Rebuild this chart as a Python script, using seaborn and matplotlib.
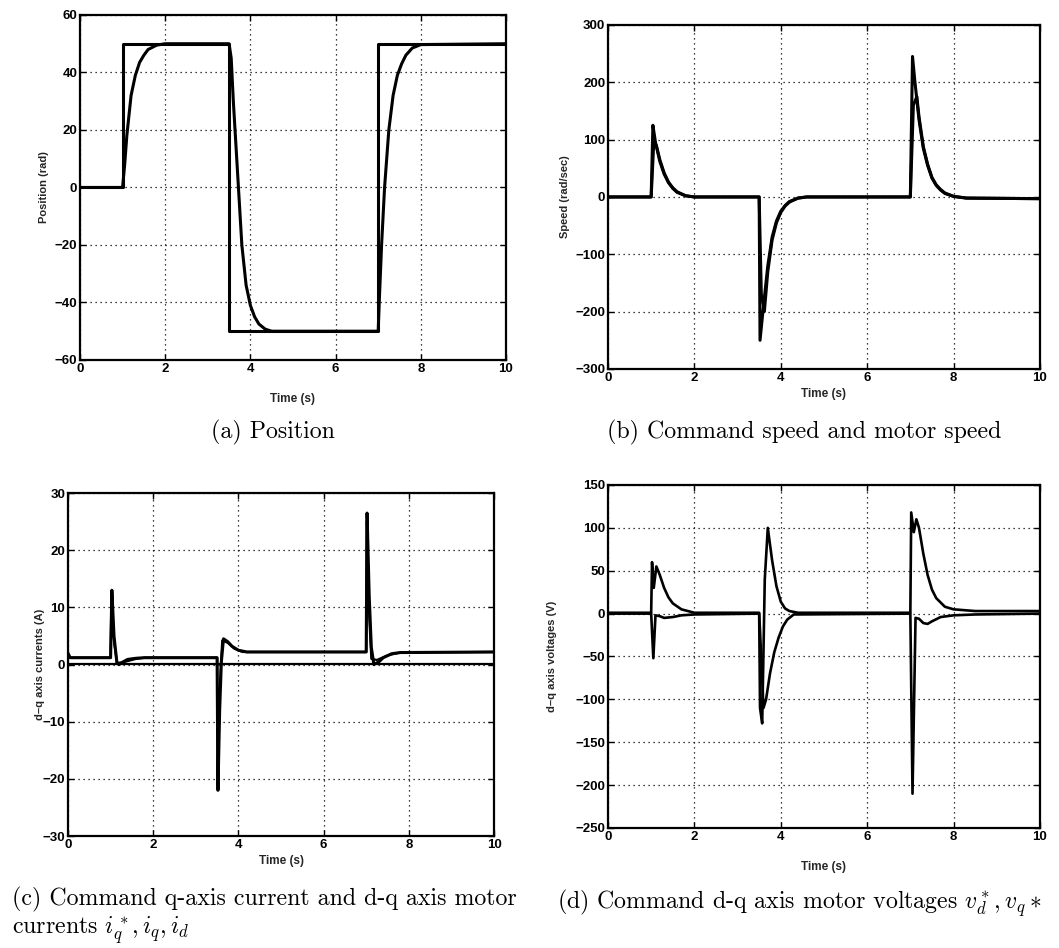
import numpy as np
import pandas as pd
import matplotlib
matplotlib.use("Agg")
import matplotlib.pyplot as plt
import seaborn as sns

# ---------------- data ----------------
# (a) position
pos_cmd_t = [0, 1.0, 1.0, 3.5, 3.5, 7.0, 7.0, 10]
pos_cmd_v = [0, 0, 50, 50, -50, -50, 50, 50]
pos_mot_t = [0, 1.0, 1.05, 1.1, 1.2, 1.3, 1.4, 1.5, 1.6, 1.8, 2.0, 3.5, 3.55, 3.6, 3.7, 3.8,
             3.9, 4.0, 4.1, 4.2, 4.35, 4.5, 7.0, 7.03, 7.08, 7.15, 7.25, 7.35, 7.45, 7.55,
             7.65, 7.8, 8.0, 10]
pos_mot_v = [0, 0, 8, 18, 32, 39, 43.5, 46, 48, 49.5, 50, 50, 45, 30, 5, -20,
             -34, -41, -45, -47.5, -49.3, -50, -50, -38, -20, 0, 20, 32, 39, 43,
             46, 48.5, 49.7, 50]

# (b) speed
spd_cmd_t = [0, 1.0, 1.04, 1.1, 1.2, 1.3, 1.4, 1.5, 1.6, 1.8, 2.0, 3.5, 3.52, 3.6, 3.7, 3.8,
             3.9, 4.0, 4.1, 4.2, 4.4, 4.6, 7.0, 7.05, 7.1, 7.2, 7.3, 7.4, 7.5, 7.6, 7.7,
             7.8, 8.0, 8.3, 10]
spd_cmd_v = [0, 0, 125, 95, 62, 40, 25, 15, 8, 2, 0, 0, -250, -190, -120, -70,
             -42, -25, -15, -8, -2, 0, 0, 245, 205, 135, 85, 55, 33, 20, 12,
             6, 1, -2, -3]
spd_mot_t = [0, 1.0, 1.06, 1.12, 1.2, 1.3, 1.4, 1.5, 1.6, 1.8, 2.0, 3.5, 3.55, 3.62, 3.7, 3.8,
             3.9, 4.0, 4.1, 4.2, 4.4, 4.6, 7.0, 7.07, 7.15, 7.2, 7.3, 7.4, 7.5, 7.6, 7.7,
             7.8, 8.0, 8.3, 10]
spd_mot_v = [0, 0, 95, 90, 65, 42, 26, 16, 9, 2, 0, 0, -170, -200, -130, -75,
             -45, -27, -16, -9, -2, 0, 0, 160, 175, 140, 88, 57, 34, 21, 13,
             7, 1, -2, -3]

# (c) d-q axis currents
iq_t = [0, 0.05, 1.0, 1.03, 1.08, 1.15, 1.2, 1.3, 1.4, 1.6, 1.8, 3.5, 3.52, 3.56, 3.6, 3.65,
        3.75, 3.85, 4.0, 4.2, 7.0, 7.02, 7.07, 7.12, 7.18, 7.3, 7.4, 7.6, 7.8, 10]
iq_v = [2.0, 1.2, 1.2, 13, 5, 0.2, 0.0, 0.5, 0.9, 1.1, 1.2, 1.2, -22, -8, 0.5, 4.5,
        4.0, 3.2, 2.5, 2.2, 2.2, 26.5, 12, 3, 0.0, 0.5, 1.2, 1.9, 2.1, 2.2]
iqc_t = [0, 1.0, 1.02, 1.08, 1.15, 1.3, 1.6, 1.8, 3.5, 3.51, 3.55, 3.62, 3.75, 3.9, 4.1,
         7.0, 7.01, 7.06, 7.12, 7.25, 7.5, 7.8, 10]
iqc_v = [1.2, 1.2, 12, 4, 0.3, 0.4, 1.0, 1.2, 1.2, -20, -6, 4.2, 3.8, 2.8, 2.2,
         2.2, 25, 10, 1.0, 0.8, 1.6, 2.1, 2.2]
id_t = [0, 10]
id_v = [0.1, 0.1]

# (d) command d-q axis voltages
vq_t = [0, 1.0, 1.02, 1.06, 1.12, 1.2, 1.3, 1.4, 1.5, 1.7, 2.0, 3.5, 3.52, 3.57, 3.63, 3.7,
        3.8, 3.9, 4.0, 4.1, 4.2, 4.4, 7.0, 7.02, 7.08, 7.14, 7.2, 7.3, 7.4, 7.5, 7.6,
        7.8, 8.0, 8.5, 10]
vq_v = [1, 1, 60, 30, 55, 45, 30, 19, 12, 5, 1, 1, -110, -128, 40, 100,
        62, 32, 14, 6, 3, 1, 1, 118, 95, 110, 100, 70, 45, 28, 18,
        8, 5, 3, 3]
vd_t = [0, 1.0, 1.05, 1.1, 1.2, 1.3, 1.5, 1.7, 2.0, 3.5, 3.52, 3.6, 3.66, 3.75, 3.85,
        3.95, 4.05, 4.15, 4.3, 7.0, 7.05, 7.12, 7.2, 7.3, 7.4, 7.5, 7.7, 8.0, 8.5, 10]
vd_v = [0, 0, -52, -2, -3, -5, -4, -2, -1, 0, -20, -110, -100, -70, -45,
        -28, -15, -7, -1, 0, -210, -5, -6, -11, -12, -9, -4, -2, -1, 0]

# captions / labels
captions = ["(a) Position", "(b) Command speed and motor speed",
            "(c) Command q-axis current and d-q axis motor\ncurrents $i_q^*, i_q, i_d$",
            r"(d) Command d-q axis motor voltages $v_d^*, v_q*$"]
ylabels = ["Position (rad)", "Speed (rad/sec)", "d\u2013q axis currents (A)", "d\u2013q axis voltages (V)"]
ylims = [(-60, 60), (-300, 300), (-30, 30), (-250, 150)]
yticks = [np.arange(-60, 61, 20), np.arange(-300, 301, 100), np.arange(-30, 31, 10),
          np.arange(-250, 151, 50)]

# ---------------- drawing ----------------
sns.set_style("ticks")
plt.rcParams["font.family"] = ["Liberation Sans", "DejaVu Sans"]
plt.rcParams["mathtext.fontset"] = "cm"

fig = plt.figure(figsize=(10.59, 9.48), dpi=100)
rects = [(0.0755, 0.6203, 0.4023, 0.3639),
         (0.5741, 0.6108, 0.4079, 0.3629),
         (0.0642, 0.1181, 0.4023, 0.3618),
         (0.5741, 0.1266, 0.4079, 0.3618)]
axes = [fig.add_axes(r) for r in rects]

def draw(ax, t, v, lw):
    df = pd.DataFrame({"t": t, "v": v})
    sns.lineplot(data=df, x="t", y="v", ax=ax, color="black", linewidth=lw,
                 estimator=None, sort=False)

draw(axes[0], pos_cmd_t, pos_cmd_v, 2.2)
draw(axes[0], pos_mot_t, pos_mot_v, 2.2)
draw(axes[1], spd_cmd_t, spd_cmd_v, 2.2)
draw(axes[1], spd_mot_t, spd_mot_v, 2.2)
draw(axes[2], id_t, id_v, 1.6)
draw(axes[2], iqc_t, iqc_v, 1.6)
draw(axes[2], iq_t, iq_v, 2.2)
draw(axes[3], vq_t, vq_v, 1.9)
draw(axes[3], vd_t, vd_v, 1.9)

xpads = [13, 3, 3, 13]
ypads = [4, 4, -2, 13]
for i, ax in enumerate(axes):
    ax.set_xlim(0, 10)
    ax.set_ylim(*ylims[i])
    ax.set_xticks(np.arange(0, 11, 2))
    ax.set_yticks(yticks[i])
    ax.set_xticklabels([str(x) for x in range(0, 11, 2)], fontweight="bold")
    ax.set_yticklabels([str(int(y)).replace("-", "\u2212") for y in yticks[i]], fontweight="bold")
    ax.tick_params(direction="in", length=4, width=1.0, labelsize=9.5, pad=2,
                   top=True, right=True, colors="black")
    ax.grid(True, color="black", linestyle=(0, (1, 3)), linewidth=0.9)
    for s in ax.spines.values():
        s.set_visible(True)
        s.set_linewidth(1.6)
        s.set_color("black")
    ax.set_xlabel("Time (s)", fontsize=8.5, fontweight="bold", labelpad=xpads[i])
    ax.set_ylabel(ylabels[i], fontsize=8, fontweight="bold", labelpad=ypads[i])

cap_kw = dict(fontsize=17.2, family=["cmr10", "DejaVu Serif"], color="black")
fig.text(0.258, 1 - 432 / 948, captions[0], ha="center", va="center", **cap_kw)
fig.text(0.759, 1 - 432 / 948, captions[1], ha="center", va="center", **cap_kw)
fig.text(0.011, 1 - 917 / 948, captions[2], ha="left", va="center", linespacing=1.12, **cap_kw)
fig.text(0.526, 1 - 903 / 948, captions[3], ha="left", va="center", **cap_kw)

fig.savefig("out.png", dpi=100, facecolor="white")
